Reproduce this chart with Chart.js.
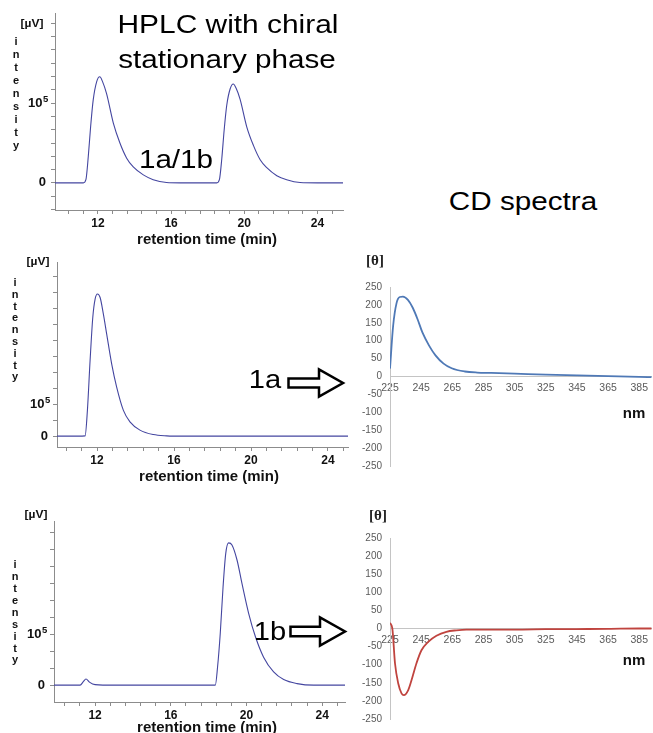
<!DOCTYPE html>
<html><head><meta charset="utf-8">
<script src="https://cdn.jsdelivr.net/npm/chart.js@4.4.1/dist/chart.umd.min.js"></script>
<style>
html,body{margin:0;padding:0;background:#fff;}
#wrap{position:relative;width:653px;height:733px;overflow:hidden;background:#fff;font-family:'Liberation Sans',Arial,sans-serif;}
canvas{position:absolute;}
.t{position:absolute;white-space:pre;color:#111;}
svg{position:absolute;left:0;top:0;}
</style></head><body><div id="wrap">
<canvas id="h1" width="350" height="250" style="left:0;top:0"></canvas>
<canvas id="h2" width="350" height="230" style="left:0;top:250px"></canvas>
<canvas id="h3" width="350" height="233" style="left:0;top:500px"></canvas>
<canvas id="c1" width="313" height="230" style="left:340px;top:250px"></canvas>
<canvas id="c2" width="313" height="243" style="left:340px;top:490px"></canvas>
</div>
<script>
// ---------- DATA ----------
const hplcXLabels = [12, 16, 20, 24];
const hplcYLabels = ['0', '10 '];          // labels at 0 and 1 (x10^5 µV); exponent added as superscript
const hplcYExp = '5';

// HPLC, chiral column, racemate 1a/1b (intensity in units of 10^5 µV)
const rtRac  = [9.65, 10.5, 11.0, 11.2, 11.34, 11.47, 11.6, 11.74, 11.93, 12.1, 12.25, 12.47, 12.84, 13.2, 13.57, 13.93, 14.48, 15.02, 15.75, 16.5, 17.5, 18.5, 18.64, 18.77, 18.9, 19.04, 19.23, 19.4, 19.55, 19.77, 20.14, 20.5, 20.87, 21.23, 21.78, 22.32, 23.05, 24.0, 25.4];
const intRac = [0, 0, 0, 0, 0.04, 0.33, 0.71, 1.04, 1.27, 1.33, 1.27, 1.12, 0.75, 0.5, 0.31, 0.2, 0.1, 0.04, 0.005, 0, 0, 0, 0.04, 0.3, 0.66, 0.97, 1.18, 1.24, 1.19, 1.05, 0.7, 0.47, 0.29, 0.19, 0.09, 0.04, 0.005, 0, 0];

// HPLC, enantiomer 1a
const rt1a  = [9.92, 10.5, 11.0, 11.38, 11.5, 11.64, 11.78, 11.9, 12.02, 12.16, 12.33, 12.5, 12.76, 13.02, 13.37, 13.71, 14.23, 14.92, 15.62, 16.5, 18, 20, 22, 25.04];
const int1a = [0, 0, 0, 0.01, 0.81, 2.38, 3.73, 4.3, 4.46, 4.35, 3.83, 3.21, 2.27, 1.54, 0.81, 0.45, 0.19, 0.05, 0.01, 0, 0, 0, 0, 0];

// HPLC, enantiomer 1b
const rt1b  = [9.83, 10.5, 11.21, 11.38, 11.52, 11.7, 12.0, 13, 15, 17, 18.35, 18.47, 18.61, 18.76, 18.9, 19.05, 19.23, 19.5, 19.76, 20.11, 20.47, 20.9, 21.43, 21.96, 22.67, 23.55, 25.2];
const int1b = [0, 0, 0, 0.07, 0.12, 0.06, 0.01, 0, 0, 0, 0, 0.36, 1.01, 1.93, 2.58, 2.79, 2.75, 2.45, 1.99, 1.41, 0.95, 0.55, 0.26, 0.11, 0.03, 0, 0];

// CD spectra
const cdXTicks = [225, 245, 265, 285, 305, 325, 345, 365, 385];
const cdYTicks = [-250, -200, -150, -100, -50, 0, 50, 100, 150, 200, 250];
const nm1a    = [225, 227, 229.2, 231.3, 233.3, 236.5, 239.6, 242.7, 245.8, 250, 254.2, 259.4, 264.6, 273, 281, 290, 305, 325, 345, 365, 385, 393];
const theta1a = [22, 141, 205, 222, 223, 214, 192, 160, 123, 87, 59, 36, 23, 14, 11, 10, 8, 5, 3, 1, -1, -2];
const nm1b    = [225, 226.5, 228.2, 230.3, 232.4, 233.9, 236.7, 238.8, 242, 245.2, 249.5, 254.8, 261.2, 267.6, 274, 285, 305, 325, 345, 365, 385, 393];
const theta1b = [15.6, 0, -96, -152, -179, -184, -170, -143, -96, -60, -37, -20, -9, -5, -3, -3, -3, -2, -1.5, -1, 0, 0];

// ---------- CHARTS ----------
Chart.defaults.font.family = "'Liberation Sans', Arial, sans-serif";
Chart.defaults.animation = false;
const r3 = v => Math.round(v * 1000) / 1000;

function pts(xs, ys) { return xs.map((x, i) => ({x: x, y: ys[i]})); }

function hplc(id, rt, inten, xr, yr, yStep, pad) {
  const gray = '#8c8c8c';
  return new Chart(document.getElementById(id), {
    type: 'line',
    data: { datasets: [{ data: pts(rt, inten), borderColor: '#4446a0', borderWidth: 1.1,
      pointRadius: 0, cubicInterpolationMode: 'monotone', fill: false }] },
    options: {
      responsive: false, devicePixelRatio: 1,
      layout: { padding: pad },
      plugins: { legend: { display: false }, tooltip: { enabled: false } },
      scales: {
        x: { type: 'linear', min: xr[0], max: xr[1],
          afterBuildTicks: s => { const t = []; for (let v = 12; v >= xr[0]; v -= 0.8) t.unshift({value: r3(v)});
            for (let v = 12.8; v <= xr[1]; v += 0.8) t.push({value: r3(v)}); s.ticks = t; },
          afterFit: s => { s.height = 30; },
          grid: { drawOnChartArea: false, drawTicks: true, tickLength: 4, color: gray },
          border: { color: gray, width: 1 },
          ticks: { autoSkip: false, maxRotation: 0, padding: 2, color: '#111',
            font: { size: 12, weight: 'bold' },
            callback: v => hplcXLabels.includes(r3(v)) ? String(r3(v)) : '' } },
        y: { type: 'linear', min: yr[0], max: yr[1],
          afterBuildTicks: s => { const t = []; for (let k = Math.ceil(yr[0] / yStep - 1e-9); k * yStep <= yr[1] + 1e-9; k++) t.push({value: r3(k * yStep)}); s.ticks = t; },
          afterFit: s => { s.width = pad.yw; },
          grid: { drawOnChartArea: false, drawTicks: true, tickLength: 4, color: gray },
          border: { color: gray, width: 1 },
          ticks: { autoSkip: false, padding: 5, color: '#111', font: { size: 13, weight: 'bold' },
            callback: v => r3(v) === 0 ? hplcYLabels[0] : (r3(v) === 1 ? hplcYLabels[1] : '') } }
      }
    }
  });
}

const ch1 = hplc('h1', rtRac, intRac, [9.65, 25.4], [-0.34, 2.13], 1 / 6, {left: 0, top: 13, right: 7, bottom: 10, yw: 55});
const ch2 = hplc('h2', rt1a, int1a, [9.92, 25.04], [-0.34, 5.44], 0.5, {left: 0, top: 12, right: 2, bottom: 3, yw: 57});
const ch3 = hplc('h3', rt1b, int1b, [9.83, 25.2], [-0.33, 3.22], 1 / 3, {left: 0, top: 21, right: 5, bottom: 1, yw: 54});

function cd(id, nm, th, color, pad) {
  const axisGray = '#c4c4c4';
  new Chart(document.getElementById(id), {
    type: 'line',
    data: { datasets: [{ data: pts(nm, th), borderColor: color, borderWidth: 1.8,
      pointRadius: 0, cubicInterpolationMode: 'monotone', fill: false }] },
    options: {
      responsive: false, devicePixelRatio: 1,
      layout: { padding: pad },
      plugins: { legend: { display: false }, tooltip: { enabled: false } },
      scales: {
        x: { type: 'linear', min: 225, max: 393, position: { y: 0 },
          afterBuildTicks: s => { s.ticks = cdXTicks.map(v => ({value: v})); },
          grid: { display: false, drawTicks: false },
          border: { color: axisGray, width: 1 },
          ticks: { autoSkip: false, maxRotation: 0, padding: 5, color: '#5a5a5a', font: { size: 10.5 } } },
        y: { type: 'linear', min: -250, max: 250,
          afterBuildTicks: s => { s.ticks = cdYTicks.map(v => ({value: v})); },
          afterFit: s => { s.width = 50; },
          grid: { display: false, drawTicks: false },
          border: { color: axisGray, width: 1 },
          ticks: { autoSkip: false, padding: 8, color: '#5a5a5a', font: { size: 10 } } }
      }
    }
  });
}
cd('c1', nm1a, theta1a, '#4f79b6', {left: 0, top: 37, right: 0, bottom: 10});
cd('c2', nm1b, theta1b, '#c0443f', {left: 0, top: 48, right: 0, bottom: 14});

// ---------- TEXT ----------
const wrap = document.getElementById('wrap');
function txt(s, cx, base, fs, o) {
  o = o || {};
  const d = document.createElement('div');
  d.className = 't';
  d.textContent = s;
  const lh = o.lh || fs;
  d.style.fontSize = fs + 'px';
  d.style.lineHeight = lh + 'px';
  if (o.bold) d.style.fontWeight = 'bold';
  if (o.family) d.style.fontFamily = o.family;
  if (o.color) d.style.color = o.color;
  const firstBase = (lh - 1.117 * fs) / 2 + 0.905 * fs;
  d.style.top = (base - firstBase) + 'px';
  d.style.left = cx + 'px';
  d.style.textAlign = 'center';
  d.style.transform = 'translateX(-50%) scaleX(' + (o.sx || 1) + ')';
  wrap.appendChild(d);
}
txt('HPLC with chiral', 228, 33.5, 26, {sx: 1.15, color: '#000'});
txt('stationary phase', 226.5, 68.5, 26, {sx: 1.14, color: '#000'});
txt('1a/1b', 176, 168.3, 26, {sx: 1.14, color: '#000'});
txt('CD spectra', 522.5, 210, 26, {sx: 1.14, color: '#000'});
txt('1a', 264.5, 388.3, 26, {sx: 1.12, color: '#000'});
txt('1b', 270, 640, 26, {sx: 1.12, color: '#000'});

txt('retention time (min)', 207, 244, 14, {bold: true, sx: 1.07});
txt('retention time (min)', 209, 480.5, 14, {bold: true, sx: 1.07});
txt('retention time (min)', 207, 732, 14, {bold: true, sx: 1.07});

txt('[\u00b5V]', 32, 27.5, 10, {bold: true, sx: 1.2});
txt('[\u00b5V]', 37.5, 265.5, 10, {bold: true, sx: 1.2});
txt('[\u00b5V]', 36, 518.5, 10, {bold: true, sx: 1.2});

const vert = 'i\nn\nt\ne\nn\ns\ni\nt\ny';
txt(vert, 16, 45, 11, {bold: true, lh: 13});
txt(vert, 15, 286.7, 11, {bold: true, lh: 11.8});
txt(vert, 15, 569, 11, {bold: true, lh: 11.9});

// superscript exponent of the "10^5" y tick label, placed from the chart's own scale
[[ch1, 0], [ch2, 250], [ch3, 500]].forEach(([c, top]) => {
  const y = top + c.scales.y.getPixelForValue(1);
  txt(hplcYExp, c.chartArea.left - 9.3, y - 1.5, 9.5, {bold: true});
});

txt('[\u03b8]', 375, 266, 15, {bold: true, family: "'Liberation Serif', 'DejaVu Serif', serif", color: '#222'});
txt('[\u03b8]', 378, 521, 15, {bold: true, family: "'Liberation Serif', 'DejaVu Serif', serif", color: '#222'});
txt('nm', 634, 418, 15, {bold: true});
txt('nm', 634, 665, 15, {bold: true});

// ---------- ARROWS ----------
const ns = 'http://www.w3.org/2000/svg';
const svg = document.createElementNS(ns, 'svg');
svg.setAttribute('width', '653'); svg.setAttribute('height', '733');
function arrow(x0, xb, xt, cy, sh, hh) {
  const p = document.createElementNS(ns, 'path');
  p.setAttribute('d', `M${x0},${cy - sh} L${xb},${cy - sh} L${xb},${cy - hh} L${xt},${cy} L${xb},${cy + hh} L${xb},${cy + sh} L${x0},${cy + sh} Z`);
  p.setAttribute('fill', '#fff'); p.setAttribute('stroke', '#000');
  p.setAttribute('stroke-width', '2.5'); p.setAttribute('stroke-linejoin', 'miter');
  svg.appendChild(p);
}
arrow(288.5, 319, 343, 383, 4.5, 13.5);
arrow(290.5, 320, 345, 631.5, 4.8, 14);
wrap.appendChild(svg);
</script></body></html>
